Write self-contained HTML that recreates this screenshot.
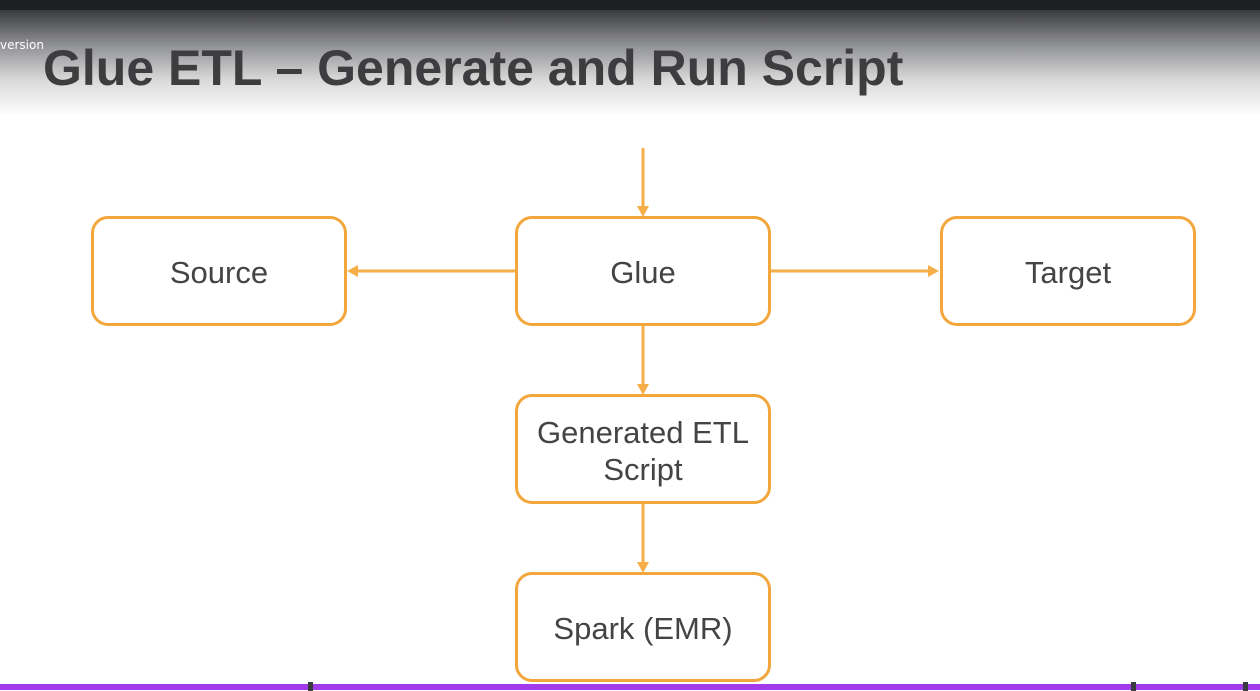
<!DOCTYPE html>
<html><head><style>
body{margin:0;width:1260px;height:691px;overflow:hidden;background:#fff;position:relative;font-family:"Liberation Sans",Arial,sans-serif}
.top{position:absolute;left:0;top:0;width:1260px;height:11px;background:#1d1e21;border-bottom:1px solid #3a3b3e;box-sizing:border-box}
.grad{position:absolute;left:0;top:11px;width:1260px;height:105px;background:linear-gradient(#3c3d41 0%,#8a8b8e 30%,#d8d8d8 65%,#fff 100%)}
.ver{position:absolute;left:0;top:38px;font-size:12px;color:#fff;font-family:"DejaVu Sans",sans-serif}
h1{position:absolute;left:43px;top:39px;margin:0;font-size:50px;font-weight:bold;color:#3d3d3f;white-space:nowrap}
.box{position:absolute;box-sizing:border-box;width:256px;height:110px;border:3px solid #f2a63b;border-radius:17px;display:flex;align-items:center;justify-content:center;text-align:center;font-size:31px;color:#444;line-height:37px;background:#fff;padding-top:3px}
.bar{position:absolute;left:0;top:684px;width:1260px;height:6px;background:#a23be9}
.tick{position:absolute;top:682px;width:5px;height:9px;background:#3a3b3e}
</style></head><body>
<div class="top"></div>
<div class="grad"></div>
<div class="ver">version</div>
<h1>Glue ETL – Generate and Run Script</h1>
<svg width="1260" height="691" style="position:absolute;left:0;top:0">
<g stroke="#f6ae48" stroke-width="3" fill="none">
<line x1="643" y1="148" x2="643" y2="210"/>
<line x1="515" y1="271" x2="354" y2="271"/>
<line x1="771" y1="271" x2="932" y2="271"/>
<line x1="643" y1="325" x2="643" y2="388"/>
<line x1="643" y1="503" x2="643" y2="566"/>
</g>
<g fill="#f6ae48">
<polygon points="637,206 649,206 643,217"/>
<polygon points="637,384 649,384 643,395"/>
<polygon points="637,562 649,562 643,573"/>
<polygon points="358,265 358,277 347,271"/>
<polygon points="928,265 928,277 939,271"/>
</g>
</svg>
<div class="box" style="left:91px;top:216px">Source</div>
<div class="box" style="left:515px;top:216px">Glue</div>
<div class="box" style="left:940px;top:216px">Target</div>
<div class="box" style="left:515px;top:394px">Generated ETL<br>Script</div>
<div class="box" style="left:515px;top:572px">Spark (EMR)</div>
<div class="bar"></div>
<div class="tick" style="left:308px"></div>
<div class="tick" style="left:1131px"></div>
<div class="tick" style="left:1243px"></div>
</body></html>
